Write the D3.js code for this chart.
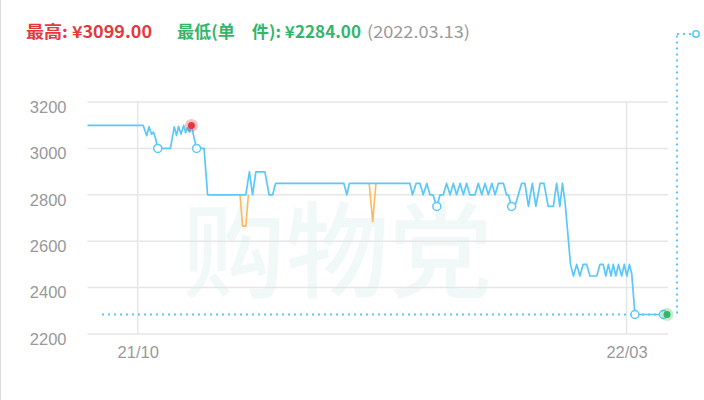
<!DOCTYPE html>
<html><head><meta charset="utf-8">
<script src="https://cdn.jsdelivr.net/npm/d3@7"></script>
<style>
html,body{margin:0;padding:0;background:#fff;}
svg{display:block;}
</style></head>
<body>
<svg id="chart" width="704" height="400"></svg>
<script>
// ---- data (day offsets counted from baseDate, prices in ¥) ----
const baseDate = "2021-10-01";
const lineDays = [-15.5,1.7,2.8,3.5,4.3,4.9,5.5,6.2,10.1,11.3,12.0,12.6,13.4,14.2,14.8,15.4,16.0,16.6,17.5,18.2,20.5,21.6,
  33.4,34.5,35.5,36.5,39.3,40.6,41.7,42.6,63.7,64.6,65.4,84.1,84.9,86.0,87.2,88.2,89.3,90.3,91.2,92.4,93.4,94.4,95.4,96.5,
  97.5,98.5,99.6,100.6,101.6,102.6,104.2,105.2,106.3,107.3,108.3,109.4,110.4,111.4,113.0,113.9,114.5,115.5,116.5,118.6,
  119.6,120.7,121.9,123.0,124.3,125.5,126.8,128.4,129.4,130.4,131.2,132.0,133.7,134.6,135.6,136.6,137.6,138.7,139.7,141.8,
  142.8,143.8,144.6,145.4,146.2,146.9,147.7,148.5,149.5,150.3,151.1,151.9,152.6,153.6,162.4,163.5];
const linePrices = [3099,3099,3055,3093,3061,3070,3045,3000,3000,3093,3055,3095,3062,3099,3068,3090,3070,3099,3040,3000,3000,2800,
  2800,2899,2800,2899,2899,2800,2800,2849,2849,2800,2849,2849,2800,2849,2849,2800,2849,2800,2800,2750,2800,2800,2849,2800,
  2849,2800,2849,2800,2849,2800,2800,2849,2800,2849,2800,2849,2800,2849,2849,2800,2800,2750,2750,2849,
  2849,2750,2849,2750,2849,2849,2750,2750,2849,2750,2849,2770,2500,2450,2500,2450,2500,2500,2450,2450,
  2500,2500,2450,2500,2450,2500,2450,2500,2450,2500,2450,2500,2460,2284,2284,2284];
const dipADays = [31.6,32.4,33.4,34.2];
const dipAPrices = [2800,2665,2665,2800];
const dipBDays = [71.5,72.6,73.6];
const dipBPrices = [2849,2684,2849];
const markerDays = [6.2,18.2,92.4,115.5,153.6,162.4];
const markerPrices = [3000,3000,2750,2750,2284,2284];
const maxDay = 16.6, maxPrice = 3099;
const minDay = 163.5, minPrice = 2284;
const yTicks = [2200,2400,2600,2800,3000,3200];
const xTickDates = ["2021-10-01","2022-03-01"];
const xTickLabels = ["21/10","22/03"];
const titleParts = ["最高: ¥3099.00","最低(单　件): ¥2284.00","(2022.03.13)"];

// ---- drawing ----
const svg = d3.select("#chart");
const base = d3.timeParse("%Y-%m-%d")(baseDate);
const toDate = d => new Date(base.getTime() + d*864e5);
const parse = d3.timeParse("%Y-%m-%d");

const x = d3.scaleTime().domain([toDate(lineDays[0]), toDate(lineDays[lineDays.length-1])]).range([87.5, 667]);
const y = d3.scaleLinear().domain([2200,3200]).range([334,102]);

// left border
svg.append("line").attr("x1",0.5).attr("x2",0.5).attr("y1",0).attr("y2",400).attr("stroke","#dcdcdc");

// watermark
svg.append("text").text("购物党")
  .attr("x",(x.range()[0]+x.range()[1])/2-40).attr("y",y(2280)-25)
  .attr("text-anchor","middle")
  .attr("font-family","'Noto Sans CJK SC'").attr("font-weight",500).attr("font-size",104)
  .attr("textLength",310).attr("lengthAdjust","spacingAndGlyphs")
  .attr("fill","#f1f8f8");

// grid
const g = svg.append("g");
g.selectAll(".hg").data(yTicks).join("line")
  .attr("x1",x.range()[0]).attr("x2",x.range()[1]+1)
  .attr("y1",d=>y(d)).attr("y2",d=>y(d))
  .attr("stroke","#e6e6e6").attr("stroke-width",1.5);
g.selectAll(".vg").data(xTickDates).join("line")
  .attr("x1",d=>x(parse(d))).attr("x2",d=>x(parse(d)))
  .attr("y1",y(3200)).attr("y2",y(2200))
  .attr("stroke","#e6e6e6").attr("stroke-width",1.5);

// axis labels
const yAxis = d3.axisLeft(y).tickValues(yTicks).tickFormat(d3.format("d")).tickSize(0).tickPadding(0);
const ya = svg.append("g").attr("transform","translate(66.5,0)").call(yAxis);
ya.select(".domain").remove();
ya.selectAll("text").attr("font-family","'Liberation Sans',Arial,sans-serif").attr("font-size",16.5)
  .attr("fill","#999").attr("dy","0.62em").attr("x",0);

const xAxis = d3.axisBottom(x).tickValues(xTickDates.map(parse)).tickFormat((d,i)=>xTickLabels[i]).tickSize(0).tickPadding(0);
const xa = svg.append("g").attr("transform","translate(0,346)").call(xAxis);
xa.select(".domain").remove();
xa.selectAll("text").attr("font-family","'Liberation Sans',Arial,sans-serif").attr("font-size",16.5)
  .attr("fill","#999").attr("dy","0.71em");

// dotted guide at lowest price
const blue = "#5ac8fa";
svg.append("line").attr("x1",102).attr("x2",x(toDate(minDay))-2)
  .attr("y1",y(minPrice)).attr("y2",y(minPrice))
  .attr("stroke",blue).attr("stroke-width",2).attr("stroke-dasharray","2,4");
const gx = x.range()[1]+10;
svg.append("line").attr("x1",gx).attr("x2",gx).attr("y1",y(minPrice)-1).attr("y2",34)
  .attr("stroke",blue).attr("stroke-width",2).attr("stroke-dasharray","2,4");
svg.append("line").attr("x1",gx).attr("x2",gx+14).attr("y1",34).attr("y2",34)
  .attr("stroke",blue).attr("stroke-width",2).attr("stroke-dasharray","2,4");
svg.append("circle").attr("cx",gx+19).attr("cy",34).attr("r",3.2)
  .attr("fill","#fff").attr("stroke",blue).attr("stroke-width",1.5);

// lines
const line = d3.line().x(d=>x(toDate(d[0]))).y(d=>y(d[1]));
const orange = "#ffb95a";
[[dipADays,dipAPrices],[dipBDays,dipBPrices]].forEach(([ds,ps])=>{
  svg.append("path").datum(ds.map((d,i)=>[d,ps[i]])).attr("d",line)
    .attr("fill","none").attr("stroke",orange).attr("stroke-width",1.6).attr("stroke-linejoin","round");
});
svg.append("path").datum(lineDays.map((d,i)=>[d,linePrices[i]])).attr("d",line)
  .attr("fill","none").attr("stroke",blue).attr("stroke-width",1.7).attr("stroke-linejoin","round");

// markers
svg.selectAll(".mk").data(markerDays.map((d,i)=>[d,markerPrices[i]])).join("circle")
  .attr("cx",d=>x(toDate(d[0]))).attr("cy",d=>y(d[1])).attr("r",4)
  .attr("fill","#fff").attr("stroke",blue).attr("stroke-width",1.5);

// max / min points
svg.append("circle").attr("cx",x(toDate(maxDay))).attr("cy",y(maxPrice)).attr("r",6.5).attr("fill","rgba(228,57,60,0.3)");
svg.append("circle").attr("cx",x(toDate(maxDay))).attr("cy",y(maxPrice)).attr("r",3.5).attr("fill","#e4393c");
svg.append("circle").attr("cx",x(toDate(minDay))).attr("cy",y(minPrice)).attr("r",6.5).attr("fill","rgba(58,190,100,0.3)");
svg.append("circle").attr("cx",x(toDate(minDay))).attr("cy",y(minPrice)).attr("r",3.5).attr("fill","#33b66a");

// title
const tf = "'Noto Sans CJK SC','Noto Sans',sans-serif";
const tAttrs = [
  {x:26,len:126,fill:"#e4393c",w:700},
  {x:177,len:184,fill:"#33b66a",w:700},
  {x:367,len:103,fill:"#9a9a9a",w:400}];
titleParts.forEach((t,i)=>{
  svg.append("text").text(t).attr("x",tAttrs[i].x).attr("y",38)
    .attr("font-family",tf).attr("font-size",16.5).attr("font-weight",tAttrs[i].w)
    .attr("fill",tAttrs[i].fill).attr("textLength",tAttrs[i].len).attr("lengthAdjust","spacingAndGlyphs");
});
</script>
</body></html>
